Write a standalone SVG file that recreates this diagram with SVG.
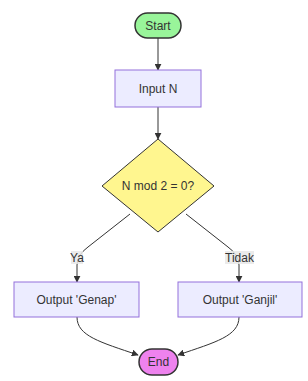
<svg xmlns="http://www.w3.org/2000/svg" width="308" height="381" viewBox="0 0 308 381">
<style>
.lbl{font-family:"Liberation Sans",Arial,sans-serif;font-size:12px;fill:#333;text-anchor:middle;dominant-baseline:central}
.box{fill:#ECECFF;stroke:#9370DB;stroke-width:1}
.term{stroke:#333;stroke-width:1.5}
.edge{fill:none;stroke:#333;stroke-width:1}
.elbl{fill:#e8e8e8;fill-opacity:0.85}
</style>
<defs>
<marker id="ah" viewBox="0 0 10 10" refX="9" refY="5" markerWidth="7" markerHeight="7" markerUnits="userSpaceOnUse" orient="auto">
<path d="M0,0 L10,5 L0,10 z" fill="#333"/>
</marker>
</defs>
<rect width="308" height="381" fill="#fff"/>
<g id="connectors">
<path class="edge" d="M158,38 L158,70" marker-end="url(#ah)"/>
<path class="edge" d="M158,107 L158,139" marker-end="url(#ah)"/>
<path class="edge" d="M130,214 L88,247 Q77,255 77,265 L77,282" marker-end="url(#ah)"/>
<path class="edge" d="M186,214 L228,247 Q239,255 239,265 L239,282" marker-end="url(#ah)"/>
<path class="edge" d="M77,317 C77,336 100,342 138,355" marker-end="url(#ah)"/>
<path class="edge" d="M239,317 C239,336 216,342 178,355" marker-end="url(#ah)"/>
<rect class="elbl" x="71" y="251" width="12" height="13"/>
<text class="lbl" x="77" y="257.5">Ya</text>
<rect class="elbl" x="225" y="251" width="29" height="13"/>
<text class="lbl" x="239.5" y="257.5">Tidak</text>
</g>
<g id="start">
<rect class="term" x="135" y="13" width="46" height="25" rx="12.5" fill="#99F59A"/>
<text class="lbl" x="158" y="25.5">Start</text>
</g>
<g id="input">
<rect class="box" x="115" y="70" width="86" height="37"/>
<text class="lbl" x="158" y="88.5">Input N</text>
</g>
<g id="decision">
<polygon points="158,139 214,186 158,232 102,186" fill="#FFF68F" stroke="#333" stroke-width="1"/>
<text class="lbl" x="158" y="186">N mod 2 = 0?</text>
</g>
<g id="genap">
<rect class="box" x="14" y="282" width="125" height="35"/>
<text class="lbl" x="76.5" y="299.5">Output 'Genap'</text>
</g>
<g id="ganjil">
<rect class="box" x="178" y="282" width="124" height="35"/>
<text class="lbl" x="240" y="299.5">Output 'Ganjil'</text>
</g>
<g id="end">
<rect class="term" x="139" y="349" width="39" height="26" rx="13" fill="#EE82EE"/>
<text class="lbl" x="158.5" y="362">End</text>
</g>
</svg>
